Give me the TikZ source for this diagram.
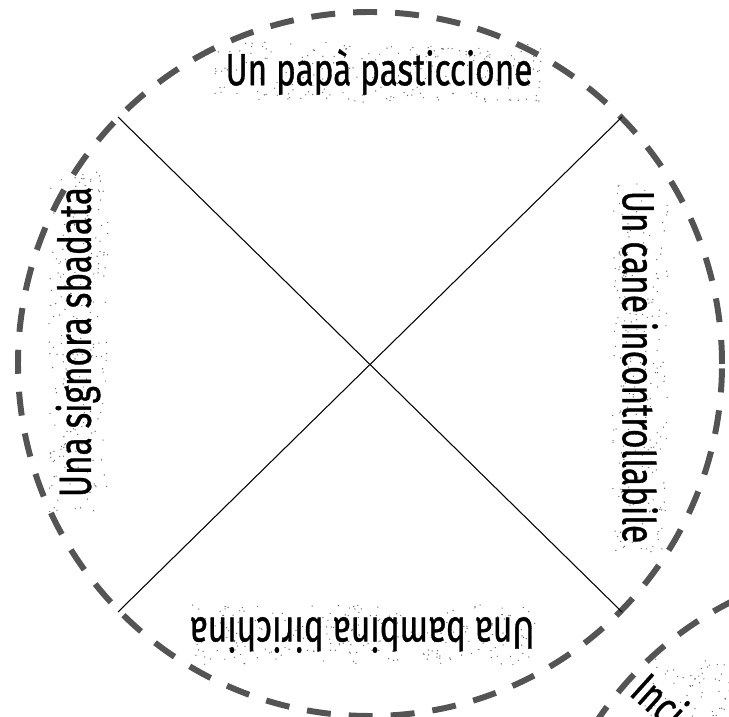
\documentclass[tikz,border=0pt]{standalone}
\usepackage{fontspec}
\setmainfont[FakeBold=1]{Fira Sans}

% random grain behind a label: centre x, centre y, half width, half height, count
\newcommand\grain[5]{%
  \foreach \k in {1,...,#5}{%
    \pgfmathsetmacro\gx{#1+#3*rand}%
    \pgfmathsetmacro\gy{#2+#4*rand}%
    \fill[black!60] (\gx,\gy) circle (0.7);
  }}

\begin{document}
\begin{tikzpicture}[x=0.02cm, y=0.02cm,
    title/.style={font=\fontsize{19}{22}\selectfont, inner sep=0pt,
      transform shape, yscale=1.35},
    rim/.style={draw=black!67, line width=3.4pt, dash pattern=on 0.48cm off 0.36cm}]
    \useasboundingbox (0,0) rectangle (729,716);
    \clip (0,0) rectangle (729,716);
    \pgfmathsetseed{11}

    % Wheel
    \coordinate (c) at (370,352);
    \draw[rim] (c) circle (352);

    % Next wheel
    \coordinate (c2) at (890,-200);
    \draw[rim] (c2) circle (352);

    % Spokes
    \coordinate (nw) at (118,599);
    \coordinate (ne) at (622,599);
    \coordinate (sw) at (118,104);
    \coordinate (se) at (622,104);
    \draw[line width=0.6pt] (nw) -- (se);
    \draw[line width=0.6pt] (ne) -- (sw);

    % Grain
    \grain{379}{644}{165}{30}{230}
    \grain{640}{349}{28}{185}{230}
    \grain{362}{81}{175}{30}{230}
    \grain{78}{374}{30}{170}{220}
    \grain{690}{28}{45}{30}{60}

    % Labels
    \node[title] (papa) at (379,644) {Un papà pasticcione};
    \node[rotate=-90, title] (cane) at (640,349) {Un cane incontrollabile};
    \node[rotate=180, title] (bambina) at (362,81) {Una bambina birichina};
    \node[rotate=90, title] (signora) at (78,374) {Una signora sbadata};
    \node[rotate=-42, title, anchor=base west] (inci) at (628,22) {Inci};
\end{tikzpicture}
\end{document}
